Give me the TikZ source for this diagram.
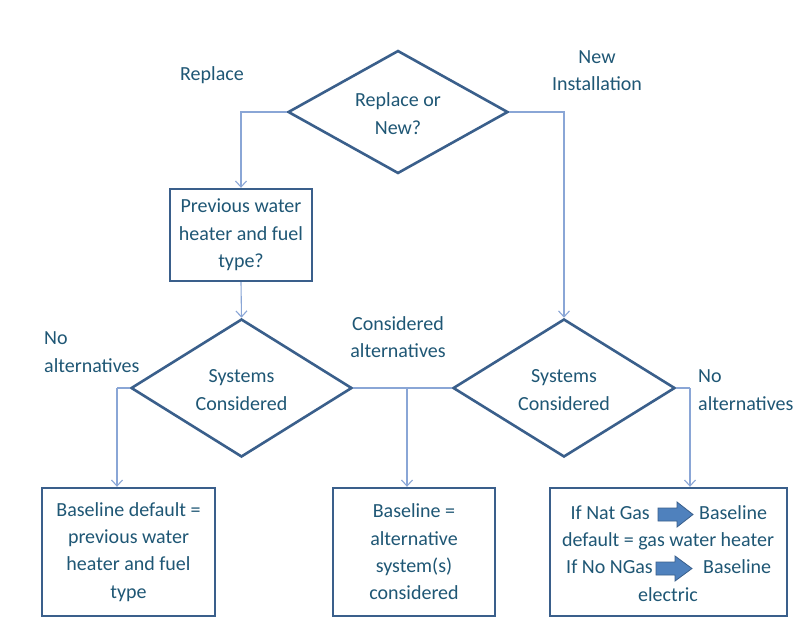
\documentclass[tikz,border=0pt]{standalone}
\usepackage{fontspec}
\setmainfont{Carlito}
\usetikzlibrary{shapes.geometric,arrows.meta}
\definecolor{txt}{HTML}{1F5775}
\definecolor{shape}{HTML}{3A5F8B}
\definecolor{conn}{HTML}{8AA6D6}
\definecolor{blk}{HTML}{4F81BD}
\begin{document}
\begin{tikzpicture}[x=1pt,y=-1pt,
  every node/.style={text=txt,font=\fontsize{20}{27.3}\selectfont,inner sep=0pt,align=center},
  dia/.style={draw=shape,line width=2.6pt,diamond,minimum width=#1},
  box/.style={draw=shape,line width=2.4pt,rectangle},
  conline/.style={draw=conn,line width=1.1pt},
  arr/.style={conline,-{Straight Barb[length=6pt,width=11pt]}},
  blkarrow/.style={fill=blk,draw=shape,line width=0.8pt,line join=miter}
]
\fill[white] (0,0) rectangle (801,641);
\useasboundingbox (0,0) rectangle (801,641);

% diamonds
\node[dia=220pt,minimum height=123pt] (top) at (398,112) {};
\node (toptxt) at (398,113.5) {Replace or\\New?};
\node[dia=221pt,minimum height=138pt] (ld) at (241.5,388) {};
\node (ldtxt) at (241.5,390) {Systems\\Considered};
\node[dia=222pt,minimum height=138pt] (rd) at (564,388) {};
\node (rdtxt) at (564,390) {Systems\\Considered};

% boxes
\node[box,minimum width=142pt,minimum height=92pt] (tb) at (241,235) {Previous water\\heater and fuel\\type?};
\node[box,minimum width=173pt,minimum height=128pt] (lb) at (128.5,552) {Baseline default =\\previous water\\heater and fuel\\type};
\node[box,minimum width=162pt,minimum height=128pt] (mb) at (414,552) {Baseline =\\alternative\\system(s)\\considered};
\node[box,minimum width=237pt,minimum height=128pt] (rb) at (668.5,552) {};

% right box content
\node[anchor=east] (r1a) at (650,513) {If Nat Gas};
\coordinate (ar1) at (658,514.5);
\draw[blkarrow,shift={(ar1)}] (0,-6.5) -- (19,-6.5) -- (19,-12.5) -- (35,0) -- (19,12.5) -- (19,6.5) -- (0,6.5) -- cycle;
\node[anchor=west] (r1b) at (699,513) {Baseline};
\node (r2) at (668,541) {default = gas water heater};
\node[anchor=east] (r3a) at (653,567) {If No NGas};
\coordinate (ar2) at (656,568.5);
\draw[blkarrow,shift={(ar2)}] (0,-6.5) -- (19,-6.5) -- (19,-12.5) -- (36,0) -- (19,12.5) -- (19,6.5) -- (0,6.5) -- cycle;
\node[anchor=west] (r3b) at (703,567) {Baseline};
\node (r4) at (668,595) {electric};

% labels
\node (lrep) at (212,75) {Replace};
\node (lnew) at (597,71) {New\\Installation};
\node[align=left,anchor=west] (lnoalt1) at (44,352) {No\\alternatives};
\node (lcons) at (398,337) {Considered\\alternatives};
\node[align=left,anchor=west] (lnoalt2) at (698,390) {No\\alternatives};

% connectors
\draw[arr] (top.west) -| (tb.north);
\draw[arr] (top.east) -| (rd.north);
\draw[arr] (tb.south) -- (ld.north);
\coordinate (lbr) at (117,388);
\coordinate (mbr) at (407,388);
\coordinate (rbr) at (690,388);
\draw[conline] (ld.west) -- (lbr);
\draw[arr] (lbr) -- (lbr |- lb.north);
\draw[conline] (ld.east) -- (rd.west);
\draw[arr] (mbr) -- (mbr |- mb.north);
\draw[conline] (rd.east) -- (rbr);
\draw[arr] (rbr) -- (rbr |- rb.north);
\end{tikzpicture}
\end{document}
